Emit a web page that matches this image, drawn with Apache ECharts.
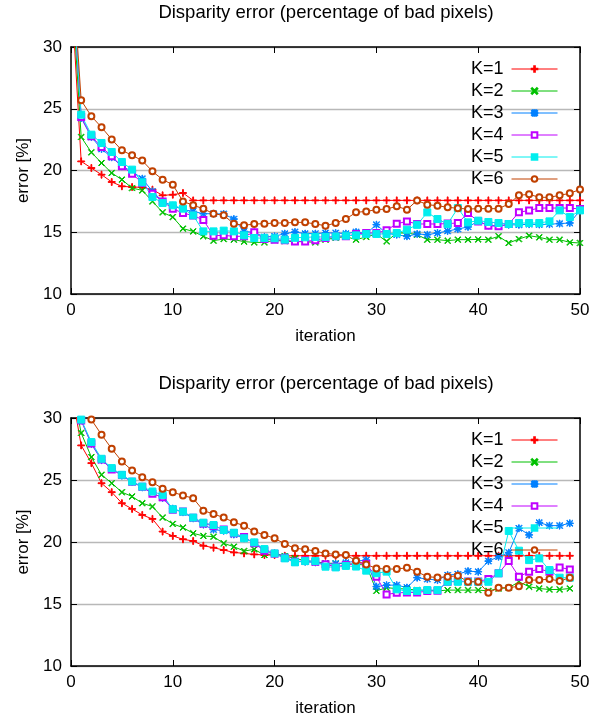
<!DOCTYPE html>
<html>
<head>
<meta charset="utf-8">
<script src="https://cdn.jsdelivr.net/npm/echarts@6/dist/echarts.min.js"></script>
<style>
  html, body { margin: 0; padding: 0; background: #fff; }
  #chart { width: 594px; height: 719px; }
</style>
</head>
<body>
<div id="chart"></div>
<script>
// iteration numbers (x values)
const iterations = [0, 1, 2, 3, 4, 5, 6, 7, 8, 9, 10, 11, 12, 13, 14, 15, 16, 17, 18, 19, 20,
    21, 22, 23, 24, 25, 26, 27, 28, 29, 30, 31, 32, 33, 34, 35, 36, 37, 38, 39, 40,
    41, 42, 43, 44, 45, 46, 47, 48, 49, 50];
const seriesNames = ['K=1', 'K=2', 'K=3', 'K=4', 'K=5', 'K=6'];
const titleText = 'Disparity error (percentage of bad pixels)';

// upper plot, iterations 0..50
const topK1 = [35, 20.74, 20.20, 19.66, 19.07, 18.72, 18.66, 18.64, 18.45, 17.99,
    18.04, 18.18, 17.58, 17.58, 17.58, 17.58, 17.58, 17.58, 17.58, 17.58,
    17.58, 17.58, 17.58, 17.58, 17.58, 17.58, 17.58, 17.58, 17.58, 17.58,
    17.58, 17.58, 17.58, 17.58, 17.58, 17.58, 17.58, 17.58, 17.58, 17.58,
    17.58, 17.58, 17.58, 17.58, 17.58, 17.58, 17.58, 17.58, 17.58, 17.58,
    17.58];
const topK2 = [36, 22.71, 21.47, 20.61, 19.80, 19.26, 18.58, 18.39, 17.50, 16.61,
    16.23, 15.29, 15.07, 14.67, 14.32, 14.45, 14.40, 14.24, 14.18, 14.18,
    14.35, 14.28, 14.24, 14.24, 14.18, 14.40, 14.55, 14.65, 14.40, 14.62,
    14.86, 14.26, 14.94, 14.94, 14.80, 14.40, 14.40, 14.32, 14.40, 14.40,
    14.42, 14.40, 14.67, 14.13, 14.45, 14.72, 14.59, 14.40, 14.40, 14.18,
    14.13];
const topK3 = [37, 24.25, 22.71, 21.74, 21.07, 20.34, 19.93, 19.34, 18.31, 17.50,
    17.15, 16.83, 16.69, 16.50, 16.50, 16.48, 16.07, 15.07, 14.99, 14.62,
    14.67, 14.89, 15.02, 14.89, 14.89, 14.94, 14.94, 14.89, 15.02, 14.89,
    15.61, 14.90, 14.80, 14.67, 14.86, 14.80, 14.94, 15.10, 15.26, 15.43,
    15.90, 15.55, 15.53, 15.60, 15.60, 15.65, 15.62, 15.65, 15.70, 15.75,
    16.77];
const topK4 = [37, 24.33, 22.77, 21.90, 21.15, 20.34, 19.74, 18.99, 18.12, 17.50,
    16.90, 16.55, 16.35, 16.00, 14.72, 14.75, 14.67, 14.67, 14.99, 14.45,
    14.40, 14.35, 14.26, 14.26, 14.35, 14.53, 14.67, 14.67, 14.86, 14.94,
    14.94, 15.16, 15.69, 15.88, 15.67, 15.67, 15.67, 15.70, 15.75, 16.56,
    15.88, 15.53, 15.48, 15.67, 16.61, 16.77, 16.96, 16.96, 16.96, 16.96,
    16.88];
const topK5 = [37, 24.52, 22.90, 22.23, 21.50, 20.69, 20.07, 19.04, 17.85, 17.37,
    17.18, 16.91, 16.37, 15.07, 15.07, 15.13, 15.07, 14.75, 14.53, 14.53,
    14.51, 14.40, 14.55, 14.59, 14.62, 14.62, 14.67, 14.72, 14.75, 14.86,
    14.86, 14.86, 14.94, 15.21, 15.60, 16.61, 16.07, 15.67, 16.96, 15.80,
    15.94, 15.83, 15.75, 15.67, 15.75, 15.75, 15.75, 15.88, 16.77, 16.23,
    16.77];
const topK6 = [38, 25.68, 24.39, 23.50, 22.52, 21.63, 21.23, 20.80, 19.93, 19.26,
    18.85, 17.50, 17.18, 16.91, 16.50, 16.37, 15.69, 15.56, 15.67, 15.69,
    15.75, 15.75, 15.80, 15.80, 15.67, 15.53, 15.75, 16.07, 16.61, 16.69,
    16.83, 16.88, 17.10, 16.83, 17.58, 17.23, 17.15, 17.02, 16.94, 16.88,
    16.91, 16.91, 16.91, 17.29, 17.99, 18.07, 17.83, 17.83, 17.99, 18.15,
    18.47];

// lower plot, iterations 0..49
const botK1 = [32.5, 27.79, 26.36, 24.74, 24.02, 23.13, 22.67, 22.18, 21.86, 20.84,
    20.49, 20.22, 20.08, 19.70, 19.54, 19.35, 19.16, 19.08, 19.00, 18.95,
    18.95, 18.89, 18.89, 18.89, 18.89, 18.89, 18.89, 18.89, 18.89, 18.89,
    18.89, 18.89, 18.89, 18.89, 18.89, 18.89, 18.89, 18.89, 18.89, 18.89,
    18.89, 18.89, 18.89, 18.89, 18.89, 18.89, 18.89, 18.89, 18.89, 18.89];
const botK2 = [33, 28.79, 26.85, 25.42, 24.74, 24.02, 23.67, 23.13, 22.86, 21.97,
    21.46, 21.16, 20.70, 20.49, 20.43, 19.89, 19.62, 19.27, 19.41, 18.95,
    19.08, 18.87, 18.68, 18.50, 18.40, 18.30, 18.27, 18.25, 18.20, 18.14,
    16.06, 16.31, 16.25, 16.20, 16.12, 16.12, 16.06, 16.12, 16.12, 16.12,
    16.12, 16.06, 16.25, 16.31, 16.79, 16.39, 16.25, 16.17, 16.17, 16.25];
const botK3 = [33.5, 29.80, 27.90, 26.60, 25.90, 25.35, 24.85, 24.40, 23.95, 23.55,
    22.70, 22.40, 21.90, 21.40, 21.00, 20.90, 20.60, 20.30, 19.95, 19.30,
    19.10, 18.80, 18.45, 18.40, 18.35, 18.20, 18.25, 18.33, 18.46, 18.54,
    16.40, 16.52, 16.52, 16.33, 17.12, 17.01, 16.93, 17.33, 17.41, 17.65,
    17.60, 18.46, 18.81, 19.14, 21.11, 20.57, 21.56, 21.32, 21.32, 21.51];
const botK4 = [33.5, 29.80, 27.95, 26.65, 25.85, 25.40, 24.85, 24.45, 23.90, 23.60,
    22.60, 22.45, 21.95, 21.50, 21.30, 21.00, 20.70, 20.40, 19.90, 19.30,
    19.05, 18.70, 18.40, 18.50, 18.40, 18.20, 18.01, 18.14, 18.27, 18.22,
    17.20, 15.77, 15.90, 15.93, 15.93, 16.04, 16.06, 16.79, 16.85, 16.82,
    16.82, 17.01, 17.47, 18.46, 17.20, 17.60, 17.82, 17.60, 17.95, 17.79];
const botK5 = [33.5, 29.87, 28.06, 26.71, 25.96, 25.42, 24.88, 24.47, 24.07, 23.80,
    22.64, 22.45, 21.97, 21.56, 21.37, 20.97, 20.75, 20.30, 19.97, 19.43,
    19.08, 18.68, 18.36, 18.46, 18.46, 18.01, 17.95, 18.07, 18.02, 17.69,
    17.48, 17.61, 16.18, 16.05, 16.05, 16.13, 16.12, 16.80, 16.79, 16.79,
    16.79, 16.79, 17.47, 20.89, 19.30, 18.54, 18.68, 17.74, 17.12, 17.12];
const botK6 = [34, 31.2, 29.87, 28.65, 27.52, 26.50, 25.77, 25.23, 24.82, 24.29,
    24.02, 23.75, 23.53, 22.53, 22.26, 21.97, 21.59, 21.32, 20.84, 20.57,
    20.30, 19.84, 19.49, 19.41, 19.27, 19.08, 19.00, 18.95, 18.49, 18.19,
    17.87, 17.82, 17.82, 17.92, 17.60, 17.20, 17.14, 17.20, 17.28, 16.79,
    16.79, 15.90, 16.31, 16.31, 16.44, 16.93, 16.93, 17.01, 16.85, 17.12];

const topData = [topK1, topK2, topK3, topK4, topK5, topK6];
const botData = [botK1, botK2, botK3, botK4, botK5, botK6];

// gnuplot-like line styles
const colors = ['#ff0000', '#00c000', '#0080ff', '#c000ff', '#00eeee', '#c04000'];
const plusPath = 'path://M4.4,0H5.6V4.4H10V5.6H5.6V10H4.4V5.6H0V4.4H4.4Z';
const crossPath = 'path://M0.8,0L5,4.2L9.2,0L10,0.8L5.8,5L10,9.2L9.2,10L5,5.8L0.8,10L0,9.2L4.2,5L0,0.8Z';
const starPath = 'path://M4.5,0H5.5V4.5H10V5.5H5.5V10H4.5V5.5H0V4.5H4.5Z' +
    'M1.2,0.5L5,4.3L8.8,0.5L9.5,1.2L5.7,5L9.5,8.8L8.8,9.5L5,5.7L1.2,9.5L0.5,8.8L4.3,5L0.5,1.2Z';
const symbols = [plusPath, crossPath, starPath, 'emptyRect', 'rect', 'emptyCircle'];
const symbolSizes = [7, 6, 7, 6, 7, 6];

const fontFamily = 'Liberation Sans, Arial, sans-serif';
const grids = [
    {left: 71, top: 47, width: 509, height: 247},
    {left: 71, top: 418, width: 509, height: 248}
];

const chart = echarts.init(document.getElementById('chart'));

const pairs = (vals) => vals.map((v, i) => [iterations[i], v]);

let xAxes = [];
let yAxes = [];
let series = [];
let titles = [];
let legends = [];

grids.forEach((g, gi) => {
    // bottom x axis with labels
    xAxes.push({
        type: 'value', gridIndex: gi, min: 0, max: 50, interval: 10,
        name: 'iteration', nameLocation: 'middle', nameGap: 34,
        nameTextStyle: {fontSize: 17, fontFamily: fontFamily, color: '#000'},
        axisLine: {show: true, lineStyle: {color: '#000', width: 1.5}},
        axisTick: {show: true, inside: true, length: 6, lineStyle: {color: '#000'}},
        axisLabel: {fontSize: 17, fontFamily: fontFamily, color: '#000', margin: 8},
        splitLine: {show: false}
    });
    // top mirror
    xAxes.push({
        type: 'value', gridIndex: gi, position: 'top', min: 0, max: 50, interval: 10,
        axisLine: {show: true, onZero: false, lineStyle: {color: '#000', width: 1.5}},
        axisTick: {show: true, inside: true, length: 6, lineStyle: {color: '#000'}},
        axisLabel: {show: false},
        splitLine: {show: false}
    });
    yAxes.push({
        type: 'value', gridIndex: gi, min: 10, max: 30, interval: 5,
        name: 'error [%]', nameLocation: 'middle', nameGap: 38,
        nameTextStyle: {fontSize: 17, fontFamily: fontFamily, color: '#000'},
        axisLine: {show: true, onZero: false, lineStyle: {color: '#000', width: 1.5}},
        axisTick: {show: true, inside: true, length: 6, lineStyle: {color: '#000'}},
        axisLabel: {fontSize: 17, fontFamily: fontFamily, color: '#000', margin: 9},
        splitLine: {show: true, lineStyle: {color: '#b8b8b8', width: 1.3}}
    });
    yAxes.push({
        type: 'value', gridIndex: gi, position: 'right', min: 10, max: 30, interval: 5,
        axisLine: {show: true, onZero: false, lineStyle: {color: '#000', width: 1.5}},
        axisTick: {show: true, inside: true, length: 6, lineStyle: {color: '#000'}},
        axisLabel: {show: false},
        splitLine: {show: false}
    });

    titles.push({
        text: titleText,
        left: 326, top: g.top - 44, padding: 0, textAlign: 'center',
        textStyle: {fontSize: 18.5, fontWeight: 'normal', fontFamily: fontFamily, color: '#000'}
    });

    legends.push({
        data: seriesNames,
        orient: 'vertical', align: 'right',
        left: 466, top: g.top + 8,
        itemWidth: 46, itemHeight: 7, itemGap: 4,
        lineStyle: {width: 1},
        textStyle: {fontSize: 18, fontFamily: fontFamily, color: '#000', padding: [0, 3, 0, 0]}
    });

    const src = gi === 0 ? topData : botData;
    src.forEach((vals, si) => {
        series.push({
            name: seriesNames[si],
            type: 'line',
            xAxisIndex: gi * 2, yAxisIndex: gi * 2,
            data: pairs(vals),
            symbol: symbols[si],
            symbolSize: symbolSizes[si],
            showAllSymbol: true,
            clip: true,
            animation: false,
            lineStyle: {color: colors[si], width: 1},
            itemStyle: {color: colors[si], borderColor: colors[si], borderWidth: 1}
        });
    });
});

chart.setOption({
    backgroundColor: '#fff',
    animation: false,
    title: titles,
    legend: legends,
    grid: grids,
    xAxis: xAxes,
    yAxis: yAxes,
    series: series
});
</script>
</body>
</html>
